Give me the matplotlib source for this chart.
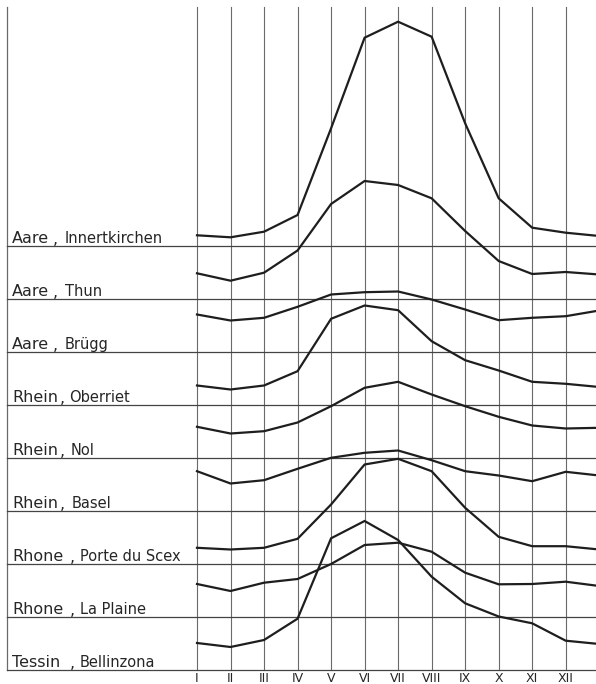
import matplotlib
matplotlib.use("Agg")
import matplotlib.pyplot as plt

# Monthly regime curves, height of each curve above its own baseline
# (chart units, one band = 53 units). 13th value = January of next year.
months = list(range(1, 14))
month_labels = ["I", "II", "III", "IV", "V", "VI", "VII", "VIII", "IX", "X", "XI", "XII"]

rivers = ["Aare", "Aare", "Aare", "Rhein", "Rhein", "Rhein", "Rhone", "Rhone", "Tessin"]
stations = ["Innertkirchen", "Thun", "Brügg", "Oberriet", "Nol", "Basel",
            "Porte du Scex", "La Plaine", "Bellinzona"]

innertkirchen = [10.7, 8.7, 14.3, 31, 117.7, 208.3, 224.3, 209.3, 122.7, 47.7, 18.3, 13.3, 10]
thun = [25.7, 18.3, 26.3, 48.5, 95, 118, 114, 100.7, 68, 38, 25, 27, 24.5]
bruegg = [37.5, 31.5, 34.2, 45.2, 57.5, 59.8, 60.5, 52.5, 42.5, 31.8, 34.2, 35.8, 41.5]
oberriet = [19.5, 15.5, 19.5, 33.8, 86.2, 99.5, 94.8, 63.8, 44.8, 34.5, 23.2, 21.2, 18]
nol = [31.2, 24.5, 26.8, 35.5, 51.8, 70.2, 76.2, 63.5, 51.8, 41.2, 32.5, 29.5, 30.2]
basel = [39.8, 27.5, 30.8, 42.2, 53.2, 58.2, 60.5, 50.8, 39.8, 35.5, 29.8, 39.2, 35.5]
porte_du_scex = [16.2, 14.5, 16.2, 25.2, 59.5, 99.5, 105.2, 92.8, 56.2, 27.2, 17.8, 17.8, 14.5]
la_plaine = [33, 26, 34.3, 38, 53, 72, 74.3, 65.3, 44.3, 32.7, 33, 35.3, 31]
bellinzona = [27, 23, 30, 51.3, 131.7, 149, 130, 93.3, 66.7, 53.5, 46.7, 29.3, 26]

series = [innertkirchen, thun, bruegg, oberriet, nol, basel, porte_du_scex, la_plaine, bellinzona]

band = 53
bottom = 14
# label layout: x of comma and of station name (pixels)
comma_x = [53, 53, 53, 60, 60, 60, 70, 70, 70]
station_x = [65, 65, 65, 69, 71, 72, 80, 80, 80]

fig = plt.figure(figsize=(5.96, 6.84), dpi=100)
ax = fig.add_axes([0, 0, 1, 1])
step = (565.7 - 197) / 11
x_left = 1 - 197 / step
x_right = 1 + (596 - 197) / step
ax.set_xlim(x_left, x_right)
ax.set_ylim(0, 684)
ax.axis("off")

top = 677
grid_col = "#6a6a6a"
text_col = "#262626"

# vertical month lines and left frame line
for m in months[:12]:
    ax.plot([m, m], [bottom, top], color=grid_col, lw=0.8, zorder=1)
x_frame = 1 + (7 - 197) / step
ax.plot([x_frame, x_frame], [bottom, top], color=grid_col, lw=0.9, zorder=1)

n = len(series)
for i, (vals, river, station) in enumerate(zip(series, rivers, stations)):
    base = bottom + band * (n - 1 - i)
    ax.plot([x_frame, x_right], [base, base], color="#444444", lw=0.9, zorder=1)
    ax.plot(months, [base + v for v in vals], color="#1e1e1e", lw=1.6,
            solid_joinstyle="miter", zorder=3)
    ty = base + 3
    ax.text(x_left + 12 / step, ty, river, fontsize=11.5, color=text_col,
            ha="left", va="baseline")
    ax.text(x_left + comma_x[i] / step, ty - 1, ",", fontsize=11.5, color=text_col,
            ha="left", va="baseline")
    ax.text(x_left + station_x[i] / step, ty, station, fontsize=10.5, color=text_col,
            ha="left", va="baseline")

# month labels under the grid
for m, lab in zip(months, month_labels):
    ax.text(m, 5, lab, fontsize=9, color=text_col, ha="center", va="center",
            family="DejaVu Sans Condensed" if False else "DejaVu Sans")

fig.savefig("out.png", dpi=100, facecolor="white")
